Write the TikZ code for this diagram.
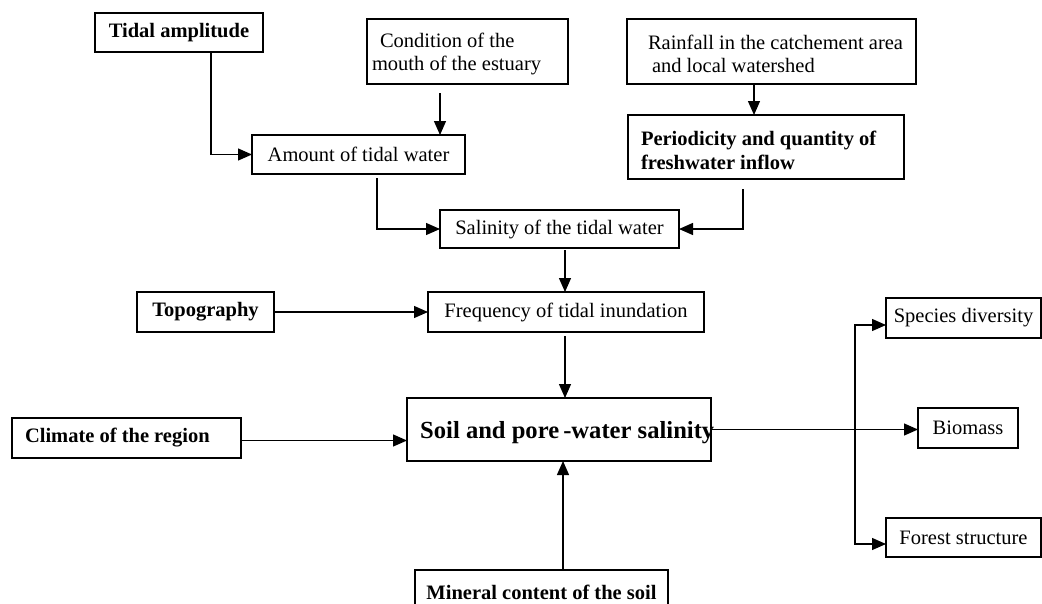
\documentclass[tikz,border=0pt]{standalone}
\usepackage{fontspec}
\setmainfont{Liberation Serif}
\usetikzlibrary{arrows.meta,calc}
\begin{document}
\begin{tikzpicture}[x=1pt,y=-1pt,
  box/.style={draw, line width=1.3pt, inner sep=0pt, outer sep=0pt, anchor=north west, font=\fontsize{20.5}{22.5}\selectfont},
  bbox/.style={box, font=\fontsize{20.5}{22.5}\selectfont\bfseries},
  txt/.style={inner sep=0pt, outer sep=0pt, anchor=west, align=left, font=\fontsize{20.5}{22.5}\selectfont},
  btxt/.style={txt, font=\fontsize{20.5}{24}\selectfont\bfseries},
  arr/.style={line width=1.3pt, -{Triangle[length=14pt,width=12pt]}},
  arrs/.style={line width=1.3pt, {Triangle[length=14pt,width=12pt]}-{Triangle[length=14pt,width=12pt]}}]
\useasboundingbox (0,0) rectangle (1042,603);
% boxes
\node[bbox, minimum width=168, minimum height=39] (tidal) at (95,13) {Tidal amplitude};
\node[box, minimum width=201, minimum height=65] (cond) at (367,19) {};
\node[txt] (condt) at ([shift={(5pt,-2.5pt)}]cond.west) {\hspace*{8pt}Condition of the\\mouth of the estuary};
\node[box, minimum width=289, minimum height=65] (rain) at (627,19) {};
\node[txt] (raint) at ([shift={(21pt,-2.5pt)}]rain.west) {Rainfall in the catchement area\\\hspace*{4pt}and local watershed};
\node[box, minimum width=213, minimum height=39] (amount) at (252,135) {Amount of tidal water};
\node[box, minimum width=276, minimum height=64] (period) at (628,115) {};
\node[btxt] (periodt) at ([shift={(13pt,-3pt)}]period.west) {Periodicity and quantity of\\freshwater inflow};
\node[box, minimum width=239, minimum height=38] (sal) at (440,210) {Salinity of the tidal water};
\node[bbox, minimum width=137, minimum height=40] (topo) at (137,292) {Topography};
\node[box, minimum width=276, minimum height=40] (freq) at (428,292) {Frequency of tidal inundation};
\node[box, minimum width=304, minimum height=63] (soil) at (407,398) {};
\node[anchor=base west, inner sep=0pt, font=\fontsize{24.6}{26}\selectfont\bfseries] (soilt) at ([shift={(13pt,-8.5pt)}]soil.west) {Soil and pore\,-water salinity};
\node[box, minimum width=229, minimum height=40] (clim) at (12,418) {};
\node[btxt] (climt) at ([xshift=13pt]clim.west) {Climate of the region};
\node[bbox, minimum width=253, minimum height=44] (mineral) at (415,570) {Mineral content of the soil};
\node[box, minimum width=155, minimum height=40] (species) at (886,298) {Species diversity};
\node[box, minimum width=100, minimum height=40] (biomass) at (918,408) {Biomass};
\node[box, minimum width=155, minimum height=39] (forest) at (886,518) {Forest structure};
% connectors
\draw[arr] ([xshift=32pt]tidal.south) |- (amount.west);
\coordinate (c1) at ([shift={(-27.5pt,-9pt)}]cond.south);
\draw[arr] (c1) -- (c1 |- amount.north);
\draw[arr] ([shift={(18.5pt,-4pt)}]amount.south) |- (sal.west);
\coordinate (r1) at ([xshift=-17.5pt]rain.south);
\draw[arr] (r1) -- (r1 |- period.north);
\draw[arr] ([shift={(-23pt,-10pt)}]period.south) |- (sal.east);
\coordinate (s1) at ([shift={(5.5pt,-2pt)}]sal.south);
\draw[arr] (s1) -- (s1 |- freq.north);
\draw[arr] (topo.east) -- (topo.east -| freq.west);
\coordinate (f1) at ([shift={(-1pt,-4pt)}]freq.south);
\draw[arr] (f1) -- (f1 |- soil.north);
\coordinate (k1) at ([yshift=-2.5pt]clim.east);
\draw[arr] (k1) -- (soil.west |- k1);
\coordinate (m1) at ([xshift=21.5pt]mineral.north);
\draw[arr] (m1) -- (m1 |- soil.south);
\draw[arr] (soil.east) -- (soil.east -| biomass.west);
\coordinate (b1) at (855,325);
\coordinate (b2) at (855,544);
\draw[arrs] (species.west |- b1) -- (b1) -- (b2) -- (forest.west |- b2);
\end{tikzpicture}
\end{document}
